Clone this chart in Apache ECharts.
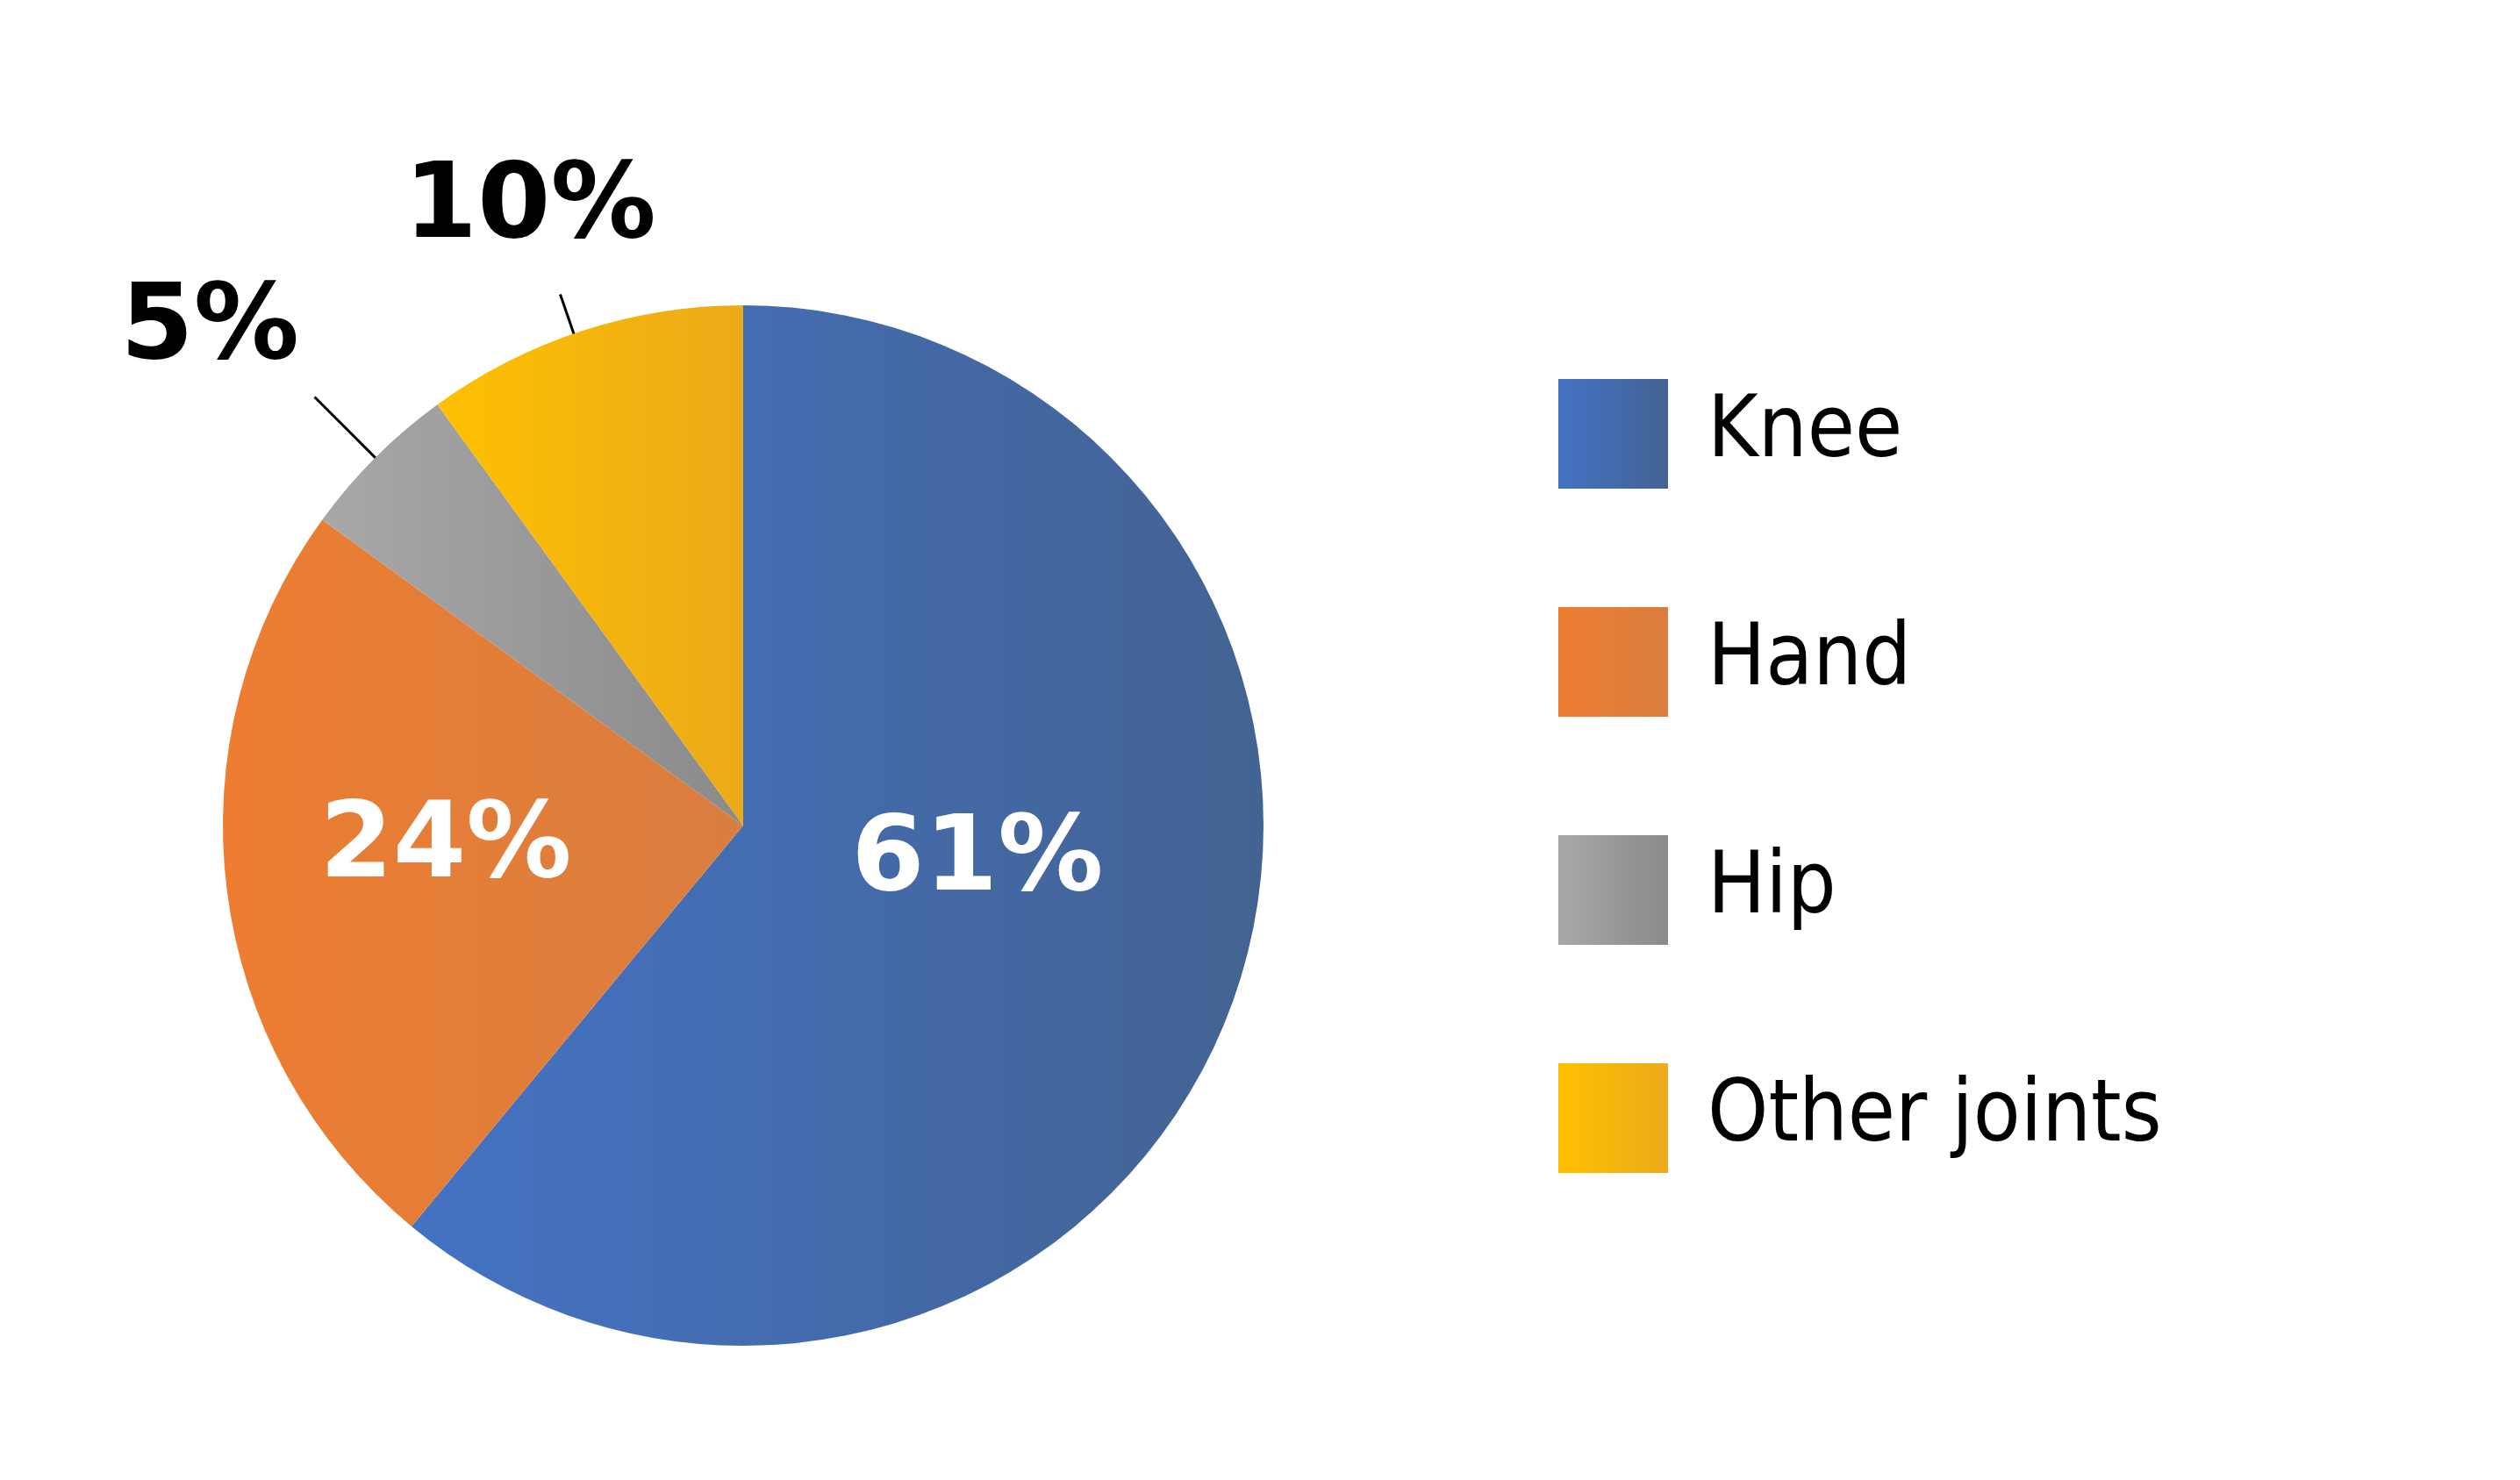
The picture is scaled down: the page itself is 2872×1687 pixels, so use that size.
<!DOCTYPE html>
<html><head><meta charset="utf-8">
<script src="https://cdn.jsdelivr.net/npm/echarts@6/dist/echarts.min.js"></script>
<style>html,body{margin:0;background:#fff}#c{width:2872px;height:1687px}</style>
</head><body><div id="c"></div>
<script>
const categories = ['Knee', 'Hand', 'Hip', 'Other joints'];
const values = [61, 24, 5, 10];
const gradients = [['#4472C4', '#436392'], ['#ED7D31', '#D97E40'], ['#A8A8A8', '#8A8A8A'], ['#FFC000', '#EBAA1A']];
const chart = echarts.init(document.getElementById('c'));
const cx = 847, cy = 941, R = 593;
function grad(c) { return new echarts.graphic.LinearGradient(0, 0, 1, 0, [{offset: 0, color: c[0]}, {offset: 1, color: c[1]}]); }
const outside = {
  2: {dir: 315, r1: 0.845, r2: 1.165, x: 239, y: 377},
  3: {dir: 341, r1: 0.76, r2: 1.08, x: 604, y: 239}
};
function pt(deg, k) { const a = deg * Math.PI / 180; return [cx + Math.sin(a) * R * k, cy - Math.cos(a) * R * k]; }
chart.setOption({
  animation: false,
  legend: {
    orient: 'vertical', left: 1771, top: 427, itemWidth: 125, itemHeight: 125, itemGap: 135,
    icon: 'rect',
    textStyle: {fontFamily: 'DejaVu Sans Condensed, DejaVu Sans', fontSize: 98, color: '#000', padding: [0, 0, 0, 40]},
    data: categories
  },
  series: [{
    type: 'pie', center: [cx, cy], radius: R, startAngle: 90, clockwise: true,
    itemStyle: {borderWidth: 0},
    labelLine: {show: true, lineStyle: {color: '#000', width: 3}},
    data: categories.map((n, i) => ({
      name: n, value: values[i],
      itemStyle: {color: grad(gradients[i])},
      label: i < 2 ? {position: 'inside', color: '#fff', offset: i === 0 ? [-15, -60] : [-42, -11]} : {position: 'outside', color: '#000'},
      labelLine: {show: i >= 2}
    })),
    label: {formatter: '{d}%', fontFamily: 'DejaVu Sans', fontWeight: 'bold', fontSize: 120},
    labelLayout: function (p) {
      const o = outside[p.dataIndex];
      if (!o) return {};
      return {x: o.x, y: o.y, align: 'center', verticalAlign: 'middle',
        labelLinePoints: [pt(o.dir, o.r1), pt(o.dir, o.r2), pt(o.dir, o.r2)]};
    }
  }]
});
</script></body></html>
